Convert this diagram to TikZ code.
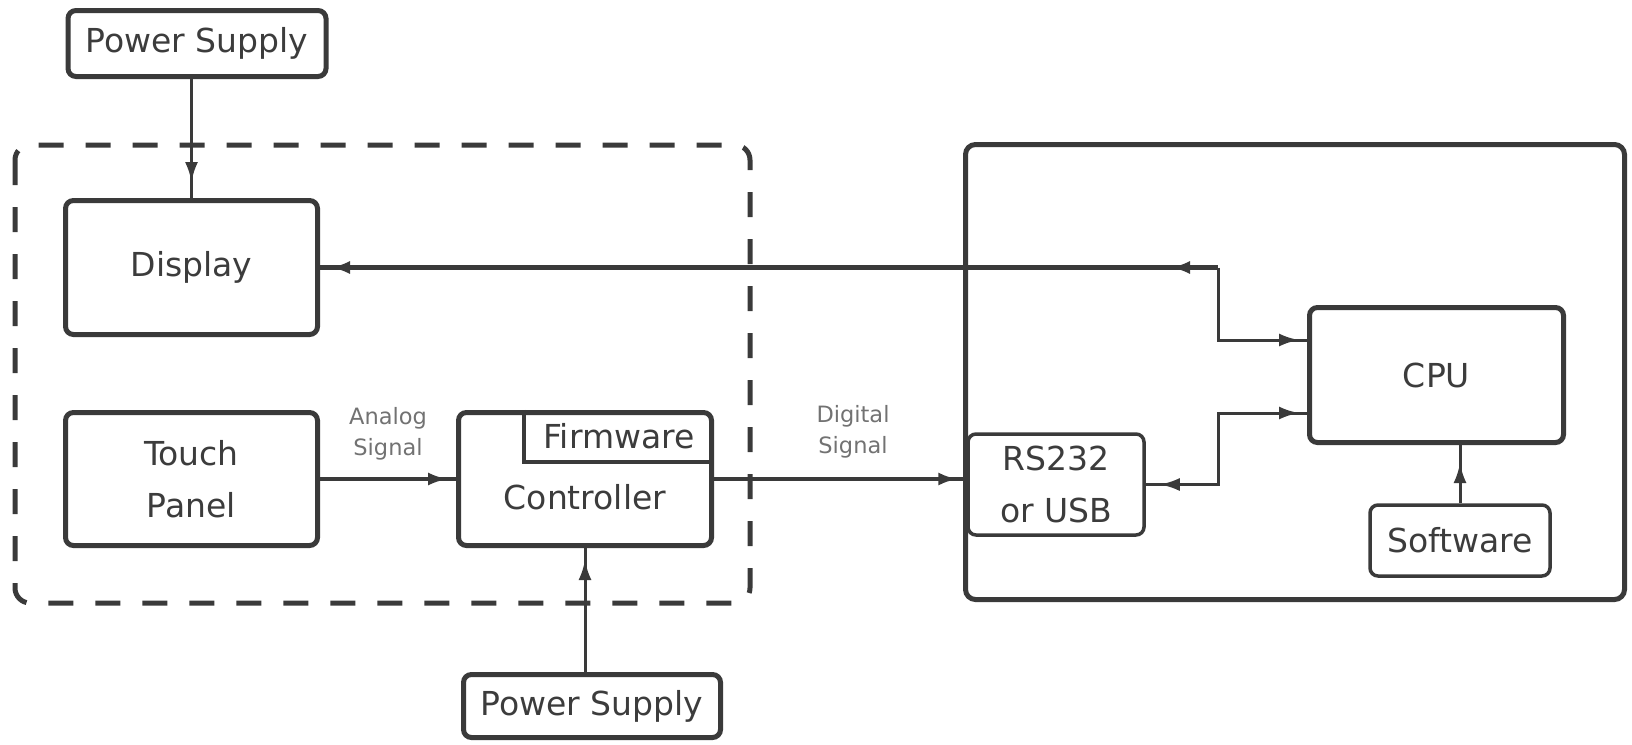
\documentclass[tikz,border=0pt]{standalone}
\usepackage{fontspec}
\setmainfont{DejaVu Sans}
\usetikzlibrary{arrows.meta,decorations.markings,calc}
\definecolor{ln}{HTML}{3A3A3A}
\definecolor{tx}{HTML}{3C3C3C}
\definecolor{lt}{HTML}{727272}
\begin{document}
\begin{tikzpicture}[x=1pt,y=-1pt,
  box/.style={draw=ln, line width=5pt, rounded corners=8pt, fill=white, text=tx,
    font=\fontsize{33}{52}\selectfont, align=center, inner sep=0pt},
  thinbox/.style={box, line width=3.5pt},
  sig/.style={text=lt, font=\fontsize{22.5}{31}\selectfont, align=center, inner sep=0pt},
  conn/.style={draw=ln, line width=3pt},
  arr/.style={postaction={decorate,decoration={markings,
    mark=at position #1 with {\arrow{Latex[length=20pt,width=13pt]}}}}},
  arrR/.style={postaction={decorate,decoration={markings,
    mark=at position #1 with {\arrowreversed{Latex[length=20pt,width=13pt]}}}}},
  dashbox/.style={draw=ln, line width=5pt, dash pattern=on 25pt off 22pt, rounded corners=15pt},
  hostbox/.style={draw=ln, line width=5pt, rounded corners=10pt}
]
\useasboundingbox (0,0) rectangle (1632,744);

% containers
\draw[dashbox] (15,145) rectangle (750,603);
\node[hostbox, minimum width=659pt, minimum height=455pt, inner sep=0pt] (host) at (1295,372) {};

% nodes
\node[box, minimum width=258pt, minimum height=66pt] (ps1) at (197,43.5) {Power Supply};
\node[box, minimum width=252pt, minimum height=134pt] (disp) at (191.5,267.5) {Display};
\node[box, minimum width=252pt, minimum height=133pt] (touch) at (191.5,479) {Touch\\Panel};
\node[box, minimum width=253pt, minimum height=133pt] (ctrl) at (585,479) {};
\node[inner sep=0pt, minimum width=190pt, minimum height=52pt, text=tx,
  font=\fontsize{33}{40}\selectfont] (fw) at (619,436) {Firmware};
\draw[draw=ln, line width=3.5pt] (fw.north west) -- (fw.south west) -- (fw.south east);
\node[text=tx, font=\fontsize{33}{40}\selectfont, inner sep=0pt] (ctrltxt) at (585,497) {Controller};
\node[box, minimum width=257pt, minimum height=63pt] (ps2) at (592,706) {Power Supply};
\node[thinbox, minimum width=176pt, minimum height=101pt] (rs) at (1056,484.5) {RS232\\or USB};
\node[box, minimum width=254pt, minimum height=135pt] (cpu) at (1436.5,375) {CPU};
\node[thinbox, minimum width=180pt, minimum height=71pt] (sw) at (1460,540.5) {Software};

% signal labels
\node[sig] (analog) at (388,434) {Analog\\Signal};
\node[sig] (digital) at (853,432) {Digital\\Signal};

% junction coordinates
\coordinate (j1) at (1218,267.5);
\coordinate (j2) at (1218,340);
\coordinate (j3) at (1218,484.5);
\coordinate (j4) at (1218,413);

% connectors
\draw[conn, arr=-16pt] (disp.north |- ps1.south) -- (disp.north);
\draw[conn, line width=5pt, arr=48pt, arr=-10pt] (j1) -- (disp.east);
\draw[conn, arr=-8pt] (j1) -- (j2) -- (cpu.west |- j2);
\draw[conn, arrR=14pt, arr=-8pt] (rs.east) -- (j3) -- (j4) -- (cpu.west |- j4);
\draw[conn, line width=3.5pt, arr=-8pt] (touch.east) -- (ctrl.west);
\draw[conn, line width=4pt, arr=-8pt] (ctrl.east) -- (ctrl.east -| rs.west);
\draw[conn, arr=-12pt] (ctrl.south |- ps2.north) -- (ctrl.south);
\draw[conn, arr=-18pt] (sw.north) -- (sw.north |- cpu.south);
\end{tikzpicture}
\end{document}
